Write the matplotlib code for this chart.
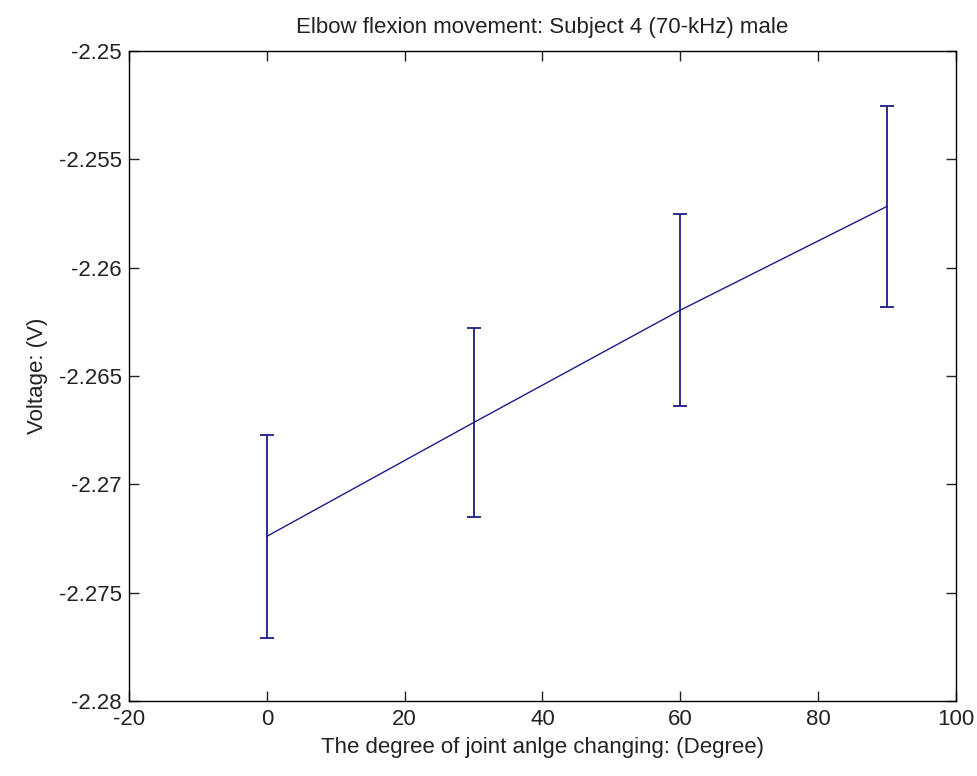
import numpy as np
import matplotlib.pyplot as plt
from matplotlib import font_manager

names = {f.name for f in font_manager.fontManager.ttflist}
fam = 'Liberation Sans Narrow' if 'Liberation Sans Narrow' in names else 'Liberation Sans'
plt.rcParams['font.family'] = [fam, 'DejaVu Sans']

# joint angle (degree) and measured voltage (V) with symmetric error
angle = [0, 30, 60, 90]
voltage = [-2.2724, -2.26715, -2.26196, -2.25717]
err = [0.00468, 0.00435, 0.00444, 0.00463]

xticks = [-20, 0, 20, 40, 60, 80, 100]
yticks = [-2.28, -2.275, -2.27, -2.265, -2.26, -2.255, -2.25]
ytick_labels = ['-2.28', '-2.275', '-2.27', '-2.265', '-2.26', '-2.255', '-2.25']

fig = plt.figure(figsize=(9.78, 7.76), dpi=100)
ax = fig.add_axes([129 / 978, 1 - 701 / 776, (956 - 129) / 978, (701 - 51) / 776])

ax.errorbar(angle, voltage, yerr=err, color='#1c1c86', ecolor='#1c1c86',
            elinewidth=1.3, linewidth=1.0, capsize=5, capthick=1.3)

ax.set_xlim(-20, 100)
ax.set_ylim(-2.28, -2.25)
ax.set_xticks(xticks)
ax.set_xticklabels([str(t) for t in xticks])
ax.set_yticks(yticks)
ax.set_yticklabels(ytick_labels)
fs = 16
ax.tick_params(direction='in', top=True, right=True, length=7, width=1,
               labelsize=fs, colors='#222222')
ax.tick_params(axis='x', pad=6)
ax.tick_params(axis='y', pad=5)
for s in ax.spines.values():
    s.set_linewidth(1.0)

ax.set_title('Elbow flexion movement: Subject 4 (70-kHz) male', fontsize=fs,
             pad=13, color='#222222')
ax.set_xlabel('The degree of joint anlge changing: (Degree)', fontsize=fs,
              labelpad=5, color='#222222')
ax.set_ylabel('Voltage: (V)', fontsize=fs, labelpad=8, color='#222222')

fig.savefig('out.png', dpi=100)
